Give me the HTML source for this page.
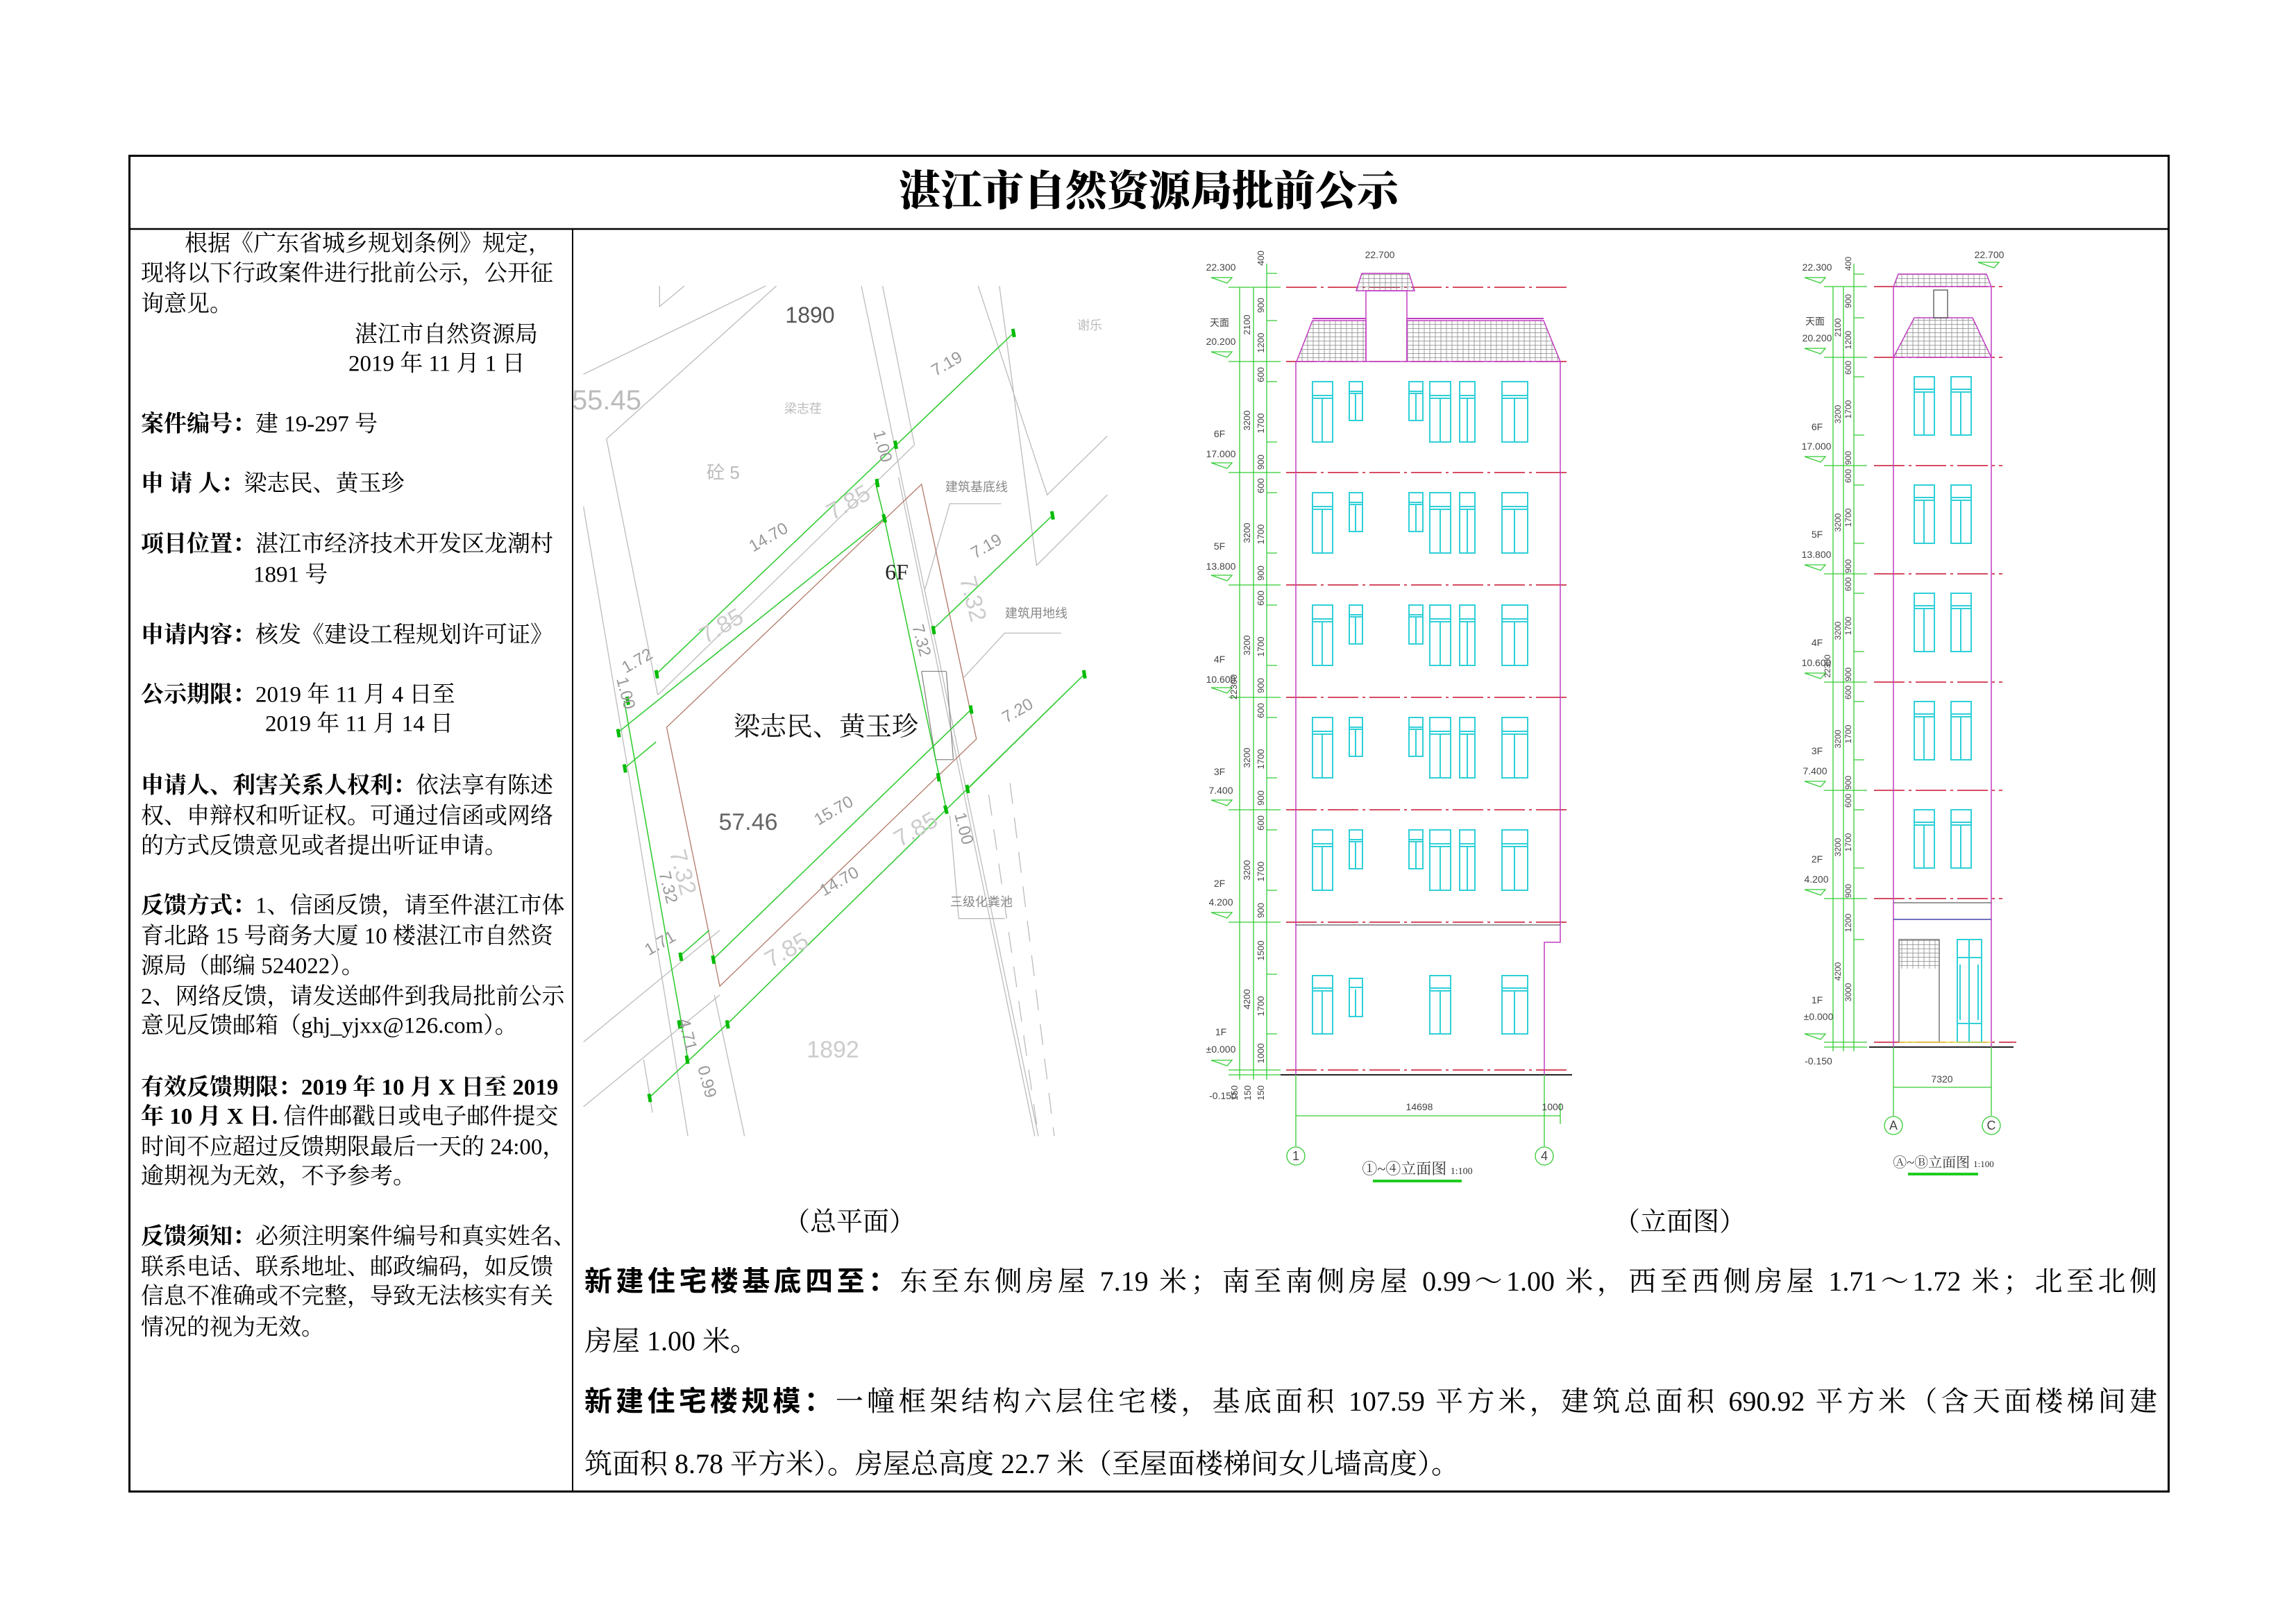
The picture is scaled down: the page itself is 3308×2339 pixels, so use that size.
<!DOCTYPE html>
<html><head><meta charset="utf-8"><style>
html,body{margin:0;padding:0;background:#fff}
body{width:3308px;height:2339px;position:relative;overflow:hidden;font-family:"Liberation Serif","Noto Serif CJK SC",serif;color:#000}
.t{position:absolute;white-space:nowrap;font-size:33px;line-height:33px;transform:translateY(-50%)}
.b{font-weight:bold;font-family:"Liberation Sans","Noto Sans CJK SC",sans-serif}
.p{position:absolute;left:842px;width:2266px;font-size:40px;line-height:40px;white-space:nowrap;transform:translateY(-50%)}
.j{text-align:justify;text-align-last:justify}
</style></head><body>
<svg width="3308" height="2339" viewBox="0 0 3308 2339" style="position:absolute;left:0;top:0" font-family="Liberation Sans, Noto Sans CJK SC, sans-serif">
<defs>
<pattern id="hat" width="8" height="6" patternUnits="userSpaceOnUse"><path d="M0 5.5H8M4 0V6" stroke="#888" stroke-width="0.8"/></pattern>
<g id="mf" fill="none" stroke="#2fd0d8" stroke-width="2">
<rect x="1891" y="29" width="29" height="87"/><path d="M1891 49H1920M1891 53H1920M1905 53V116"/>
<rect x="1944" y="29" width="19" height="56"/><path d="M1944 43H1963M1944 46H1963M1953 46V85"/>
<rect x="2030" y="29" width="20" height="56"/><path d="M2030 43H2050M2030 46H2050M2040 46V85"/>
<rect x="2060" y="29" width="30" height="87"/><path d="M2060 49H2090M2060 53H2090M2075 53V116"/>
<rect x="2103" y="29" width="22" height="87"/><path d="M2103 49H2125M2103 53H2125M2114 53V116"/>
<rect x="2164" y="29" width="37" height="87"/><path d="M2164 49H2201M2164 53H2201M2182 53V116"/>
</g>
<g id="sf" fill="none" stroke="#2fd0d8" stroke-width="2">
<rect x="2758" y="28" width="29" height="84"/><path d="M2758 46H2787M2758 50H2787M2772 50V112"/>
<rect x="2811" y="28" width="29" height="84"/><path d="M2811 46H2840M2811 50H2840M2825 50V112"/>
</g>
</defs>
<!-- frame -->
<rect x="186.5" y="224.5" width="2938" height="1925" fill="none" stroke="#000" stroke-width="3"/>
<line x1="186" y1="330" x2="3126" y2="330" stroke="#000" stroke-width="2.5"/>
<line x1="825" y1="330" x2="825" y2="2151" stroke="#000" stroke-width="2"/>

<!-- SITE PLAN -->
<g transform="translate(833,340) scale(0.51,0.848)" fill="none" stroke-width="1.3">
<g stroke="#bbb" vector-effect="non-scaling-stroke">
<path vector-effect="non-scaling-stroke" d="M15 235L530 85M80 345L560 85M80 345L225 780M15 460L140 905M800 85L1300 1530M860 85L950 355M950 355L225 780M905 410L1290 1530M1130 85L1325 440L1495 340M1190 85L1295 560L1495 440M15 1370L400 1180M15 1480L400 1290M185 1400L210 1490M385 1290L470 1530M230 85L230 120L300 85M140 905L310 1530"/>
<path vector-effect="non-scaling-stroke" stroke-dasharray="30 20" d="M1160 950L1300 1530M1220 930L1345 1530"/>
<path vector-effect="non-scaling-stroke" d="M980 600L1050 455L1195 455M1090 750L1205 675L1365 675M1050 985L1075 1160L1205 1160"/>
<path vector-effect="non-scaling-stroke" stroke="#888" d="M970 740L1040 740M970 740L1010 890L1060 890M1040 740L1060 890"/>
</g>
<polygon vector-effect="non-scaling-stroke" points="250,835 970,422 1125,855 400,1275" stroke="#b07866"/>
<g stroke="#33cc33" stroke-width="1.6">
<path vector-effect="non-scaling-stroke" d="M220 745L1230 165M110 845L865 480M130 905L220 860M285 1225L370 1180M380 1230L1110 805M420 1340L1430 745M200 1465L420 1340M130 790L310 1400M840 420L865 480M865 480L1040 975M1000 670L1340 475M1100 940L1430 745"/>
</g>
<g stroke="#00bb00" stroke-width="5">
<path vector-effect="non-scaling-stroke" d="M1228 158L1232 172M895 348L899 362M220 738L224 752M862 473L868 487M1338 468L1342 482M1002 663L1006 677M1428 738L1432 752M1108 798L1112 812M1098 933L1102 947M1036 968L1042 982M1016 913L1020 927M380 1223L384 1237M420 1333L424 1347M288 1218L292 1232M200 1458L204 1472M306 1393L310 1407M284 1333L288 1347M130 898L134 912M112 838L116 852M138 783L142 797M843 413L847 427"/>
</g>
</g>
<g fill="#999" font-size="26">
<text x="1167" y="465" font-size="32" fill="#555" text-anchor="middle">1890</text>
<text x="874" y="590" font-size="40" fill="#bbb" text-anchor="middle">55.45</text>
<text x="1157" y="595" font-size="18" fill="#bbb" text-anchor="middle">梁志荏</text>
<text x="1042" y="690" font-size="26" fill="#bbb" text-anchor="middle">砼 5</text>
<text x="1570" y="475" font-size="18" fill="#bbb" text-anchor="middle">谢乐</text>
<text x="1292" y="835" font-size="32" fill="#222" text-anchor="middle" font-family="Liberation Serif, serif">6F</text>
<text x="1190" y="1060" font-size="38" fill="#111" text-anchor="middle" font-family="Liberation Serif, Noto Serif CJK SC, serif">梁志民、黄玉珍</text>
<text x="1078" y="1196" font-size="34" fill="#666" text-anchor="middle">57.46</text>
<text x="1200" y="1524" font-size="34" fill="#ccc" text-anchor="middle">1892</text>
<text x="1407" y="708" font-size="18" fill="#888" text-anchor="middle">建筑基底线</text>
<text x="1493" y="890" font-size="18" fill="#888" text-anchor="middle">建筑用地线</text>
<text x="1414" y="1306" font-size="18" fill="#888" text-anchor="middle">三级化粪池</text>
<g font-size="24" fill="#999" text-anchor="middle">
<text transform="translate(1368,531) rotate(-30)">7.19</text>
<text transform="translate(1425,794) rotate(-30)">7.19</text>
<text transform="translate(1470,1031) rotate(-30)">7.20</text>
<text transform="translate(1111,781) rotate(-30)">14.70</text>
<text transform="translate(1205,1175) rotate(-30)">15.70</text>
<text transform="translate(1213,1277) rotate(-30)">14.70</text>
<text transform="translate(922,959) rotate(-30)">1.72</text>
<text transform="translate(955,1366) rotate(-30)">1.71</text>
<text transform="translate(1264,645) rotate(75)">1.00</text>
<text transform="translate(1381,1196) rotate(75)">1.00</text>
<text transform="translate(894,1001) rotate(75)">1.00</text>
<text transform="translate(1320,925) rotate(75)">7.32</text>
<text transform="translate(955,1281) rotate(75)">7.32</text>
<text transform="translate(983,1493) rotate(75)">4.71</text>
<text transform="translate(1011,1561) rotate(75)">0.99</text>
</g>
<g font-size="34" fill="#ccc" text-anchor="middle">
<text transform="translate(1228,734) rotate(-30)">7.85</text>
<text transform="translate(1045,912) rotate(-30)">7.85</text>
<text transform="translate(1325,1205) rotate(-30)">7.85</text>
<text transform="translate(1139,1379) rotate(-30)">7.85</text>
<text transform="translate(1391,866) rotate(75)">7.32</text>
<text transform="translate(973,1260) rotate(75)">7.32</text>
</g>
</g>

<!-- MAIN ELEVATION -->
<g fill="none">
<g stroke="#c8102e" stroke-width="1.5" stroke-dasharray="44 6 4 6">
<path d="M1853 414H2262M1853 521H2262M1853 681H2262M1853 843H2262M1853 1005H2262M1853 1167H2262M1853 1329H2262M1853 1542H2262"/>
</g>
<path d="M1845 1549H2265" stroke="#222" stroke-width="2"/>
<path d="M1867 521V1549M2248 521V1358H2225V1549" stroke="#c03cc0" stroke-width="1.5"/>
<path d="M1867 1333H2248" stroke="#333" stroke-width="1"/>
<polygon points="1868,521 1891,462 1968,462 1968,521" fill="url(#hat)" stroke="#c03cc0" stroke-width="1.5"/>
<polygon points="2027,521 2027,462 2224,462 2248,521" fill="url(#hat)" stroke="#c03cc0" stroke-width="1.5"/>
<path d="M1891 459H1968M2027 459H2224" stroke="#c03cc0" stroke-width="2"/>
<rect x="1968" y="419" width="59" height="102" stroke="#c03cc0" stroke-width="1.5"/>
<polygon points="1954,419 1962,394 2030,394 2038,419" fill="url(#hat)" stroke="#c03cc0" stroke-width="1.5"/>
<use href="#mf" y="521"/><use href="#mf" y="681"/><use href="#mf" y="843"/><use href="#mf" y="1005"/><use href="#mf" y="1167"/>
<g stroke="#2fd0d8" stroke-width="2">
<rect x="1891" y="1406" width="29" height="84"/><path d="M1891 1424H1920M1891 1428H1920M1905 1428V1490"/>
<rect x="1944" y="1410" width="19" height="55"/><path d="M1944 1423H1963M1953 1426V1465"/>
<rect x="2060" y="1406" width="30" height="84"/><path d="M2060 1424H2090M2060 1428H2090M2075 1428V1490"/>
<rect x="2164" y="1406" width="37" height="84"/><path d="M2164 1424H2201M2164 1428H2201M2182 1428V1490"/>
</g>
<g stroke="#33cc33" stroke-width="1.3">
<path d="M1786 414V1556M1806 414V1556M1825 380V1556M1770 414H1845M1770 521H1845M1770 681H1845M1770 843H1845M1770 1005H1845M1770 1167H1845M1770 1329H1845M1770 1542H1845M1770 1549H1845"/>
<path d="M1825 394H1840M1825 462H1840M1825 550H1840M1825 637H1840M1825 710H1840M1825 797H1840M1825 872H1840M1825 959H1840M1825 1034H1840M1825 1121H1840M1825 1196H1840M1825 1283H1840M1825 1404H1840M1825 1490H1840"/>
<path d="M1867 1549V1652M2225 1549V1652M2248 1590V1620M1867 1608H2248"/>
<circle cx="1867" cy="1666" r="13"/><circle cx="2225" cy="1666" r="13"/>
<path d="M1745 400H1775L1768 408ZM1745 507H1775L1768 515ZM1745 667H1775L1768 675ZM1745 829H1775L1768 837ZM1745 991H1775L1768 999ZM1745 1153H1775L1768 1161ZM1745 1315H1775L1768 1323ZM1745 1528H1775L1768 1536Z"/>
</g>
<path d="M1978 1702H2106" stroke="#22cc22" stroke-width="4"/>
</g>
<g font-size="14" fill="#444" text-anchor="middle">
<text x="1759" y="390">22.300</text><text x="1988" y="372">22.700</text>
<text x="1757" y="470">天面</text><text x="1759" y="497">20.200</text>
<text x="1757" y="630">6F</text><text x="1759" y="659">17.000</text>
<text x="1757" y="792">5F</text><text x="1759" y="821">13.800</text>
<text x="1757" y="955">4F</text><text x="1759" y="984">10.600</text>
<text x="1757" y="1117">3F</text><text x="1759" y="1144">7.400</text>
<text x="1757" y="1278">2F</text><text x="1759" y="1305">4.200</text>
<text x="1759" y="1492">1F</text><text x="1759" y="1517">±0.000</text>
<text x="1762" y="1584">-0.150</text>
<text x="2045" y="1600">14698</text><text x="2237" y="1600">1000</text>
<text x="1867" y="1672" font-size="18">1</text><text x="2225" y="1672" font-size="18">4</text>
<text x="2042" y="1692" font-size="22" fill="#333" font-family="Liberation Serif, Noto Serif CJK SC, serif">①~④立面图 <tspan font-size="14">1:100</tspan></text>
<g font-size="13">
<text transform="translate(1801,468) rotate(-90)">2100</text>
<text transform="translate(1801,606) rotate(-90)">3200</text>
<text transform="translate(1801,768) rotate(-90)">3200</text>
<text transform="translate(1801,930) rotate(-90)">3200</text>
<text transform="translate(1801,1092) rotate(-90)">3200</text>
<text transform="translate(1801,1254) rotate(-90)">3200</text>
<text transform="translate(1801,1440) rotate(-90)">4200</text>
<text transform="translate(1782,990) rotate(-90)">22300</text>
<text transform="translate(1821,372) rotate(-90)">400</text>
<text transform="translate(1821,440) rotate(-90)">900</text>
<text transform="translate(1821,494) rotate(-90)">1200</text>
<text transform="translate(1821,1370) rotate(-90)">1500</text>
<text transform="translate(1821,1450) rotate(-90)">1700</text>
<text transform="translate(1821,1518) rotate(-90)">1000</text>
<text transform="translate(1783,1575) rotate(-90)">150</text>
<text transform="translate(1802,1575) rotate(-90)">150</text>
<text transform="translate(1821,1575) rotate(-90)">150</text>
</g>
</g>
<g font-size="13" fill="#444" text-anchor="middle">
<g id="fl"><text transform="translate(1821,540) rotate(-90)">600</text><text transform="translate(1821,610) rotate(-90)">1700</text><text transform="translate(1821,666) rotate(-90)">900</text></g>
<use href="#fl" y="160"/><use href="#fl" y="322"/><use href="#fl" y="484"/><use href="#fl" y="646"/>
</g>

<!-- SIDE ELEVATION -->
<g fill="none">
<g stroke="#c8102e" stroke-width="1.5" stroke-dasharray="44 6 4 6">
<path d="M2700 413H2885M2700 515H2885M2700 671H2885M2700 827H2885M2700 983H2885M2700 1139H2885M2700 1295H2885M2700 1502H2905"/>
</g>
<path d="M2693 1509H2901" stroke="#222" stroke-width="2"/>
<path d="M2728 413V1509M2869 413V1509" stroke="#c03cc0" stroke-width="1.5"/>
<polygon points="2728,515 2758,458 2842,458 2869,515" fill="url(#hat)" stroke="#c03cc0" stroke-width="1.5"/>
<path d="M2728 413H2869" stroke="#333"/>
<polygon points="2728,413 2735,395 2862,395 2869,413" fill="url(#hat)" stroke="#c03cc0" stroke-width="1.5"/>
<rect x="2786" y="418" width="20" height="40" stroke="#444" stroke-width="1.2"/>
<use href="#sf" y="515"/><use href="#sf" y="671"/><use href="#sf" y="827"/><use href="#sf" y="983"/><use href="#sf" y="1139"/>
<path d="M2728 1301H2869" stroke="#333"/><path d="M2728 1325H2869" stroke="#44a" stroke-width="1.5"/>
<rect x="2736" y="1354" width="58" height="148" stroke="#555" stroke-width="1.2"/>
<rect x="2736" y="1354" width="58" height="42" fill="url(#hat)" stroke="none"/>
<rect x="2820" y="1354" width="35" height="148" stroke="#2fd0d8" stroke-width="2"/>
<path d="M2820 1380H2855M2837 1354V1502M2824 1390V1470M2850 1390V1470M2820 1475H2855" stroke="#2fd0d8" stroke-width="2"/>
<path d="M2736 1502H2869" stroke="#e8d040" stroke-width="1.5"/>
<g stroke="#33cc33" stroke-width="1.3">
<path d="M2641 413V1515M2656 413V1515M2671 380V1515M2628 413H2690M2628 515H2690M2628 671H2690M2628 827H2690M2628 983H2690M2628 1139H2690M2628 1295H2690M2628 1502H2690M2628 1509H2690"/>
<path d="M2671 395H2686M2671 458H2686M2671 543H2686M2671 627H2686M2671 699H2686M2671 783H2686M2671 855H2686M2671 939H2686M2671 1011H2686M2671 1095H2686M2671 1167H2686M2671 1251H2686M2671 1354H2686"/>
<path d="M2728 1509V1608M2869 1509V1608M2728 1567H2869"/>
<circle cx="2728" cy="1622" r="13"/><circle cx="2869" cy="1622" r="13"/>
<path d="M2600 400H2630L2623 408ZM2600 502H2630L2623 510ZM2600 658H2630L2623 666ZM2600 814H2630L2623 822ZM2600 970H2630L2623 978ZM2600 1126H2630L2623 1134ZM2600 1282H2630L2623 1290ZM2600 1490H2630L2623 1498Z"/>
<path d="M2850 378H2880L2873 386Z"/>
</g>
<path d="M2749 1692H2850" stroke="#22cc22" stroke-width="4"/>
</g>
<g font-size="14" fill="#444" text-anchor="middle">
<text x="2618" y="390">22.300</text><text x="2866" y="372">22.700</text>
<text x="2615" y="468">天面</text><text x="2618" y="492">20.200</text>
<text x="2618" y="620">6F</text><text x="2617" y="648">17.000</text>
<text x="2618" y="775">5F</text><text x="2617" y="804">13.800</text>
<text x="2618" y="931">4F</text><text x="2617" y="960">10.600</text>
<text x="2618" y="1087">3F</text><text x="2615" y="1116">7.400</text>
<text x="2618" y="1243">2F</text><text x="2617" y="1272">4.200</text>
<text x="2618" y="1446">1F</text><text x="2620" y="1470">±0.000</text>
<text x="2620" y="1534">-0.150</text>
<text x="2798" y="1560">7320</text>
<text x="2728" y="1628" font-size="18">A</text><text x="2869" y="1628" font-size="18">C</text>
<text x="2800" y="1682" font-size="20" fill="#333" font-family="Liberation Serif, Noto Serif CJK SC, serif">Ⓐ~Ⓑ立面图 <tspan font-size="13">1:100</tspan></text>
<g font-size="12">
<text transform="translate(2652,472) rotate(-90)">2100</text>
<text transform="translate(2652,597) rotate(-90)">3200</text>
<text transform="translate(2652,753) rotate(-90)">3200</text>
<text transform="translate(2652,909) rotate(-90)">3200</text>
<text transform="translate(2652,1065) rotate(-90)">3200</text>
<text transform="translate(2652,1221) rotate(-90)">3200</text>
<text transform="translate(2652,1400) rotate(-90)">4200</text>
<text transform="translate(2637,960) rotate(-90)">22300</text>
<text transform="translate(2667,380) rotate(-90)">400</text>
<text transform="translate(2667,434) rotate(-90)">900</text>
<text transform="translate(2667,490) rotate(-90)">1200</text>
<text transform="translate(2667,1330) rotate(-90)">1200</text>
<text transform="translate(2667,1430) rotate(-90)">3000</text>
</g>
</g>
<g font-size="12" fill="#444" text-anchor="middle">
<g id="sl"><text transform="translate(2667,530) rotate(-90)">600</text><text transform="translate(2667,590) rotate(-90)">1700</text><text transform="translate(2667,660) rotate(-90)">900</text></g>
<use href="#sl" y="156"/><use href="#sl" y="312"/><use href="#sl" y="468"/><use href="#sl" y="624"/>
</g>
</svg>

<div class="t" style="left:1655px;top:276px;transform:translate(-50%,-50%);font-size:60px;line-height:60px;font-weight:900;font-family:'Liberation Serif','Noto Serif CJK SC',serif">湛江市自然资源局批前公示</div>

<div class="t" style="left:266px;top:352px">根据《广东省城乡规划条例》规定，</div>
<div class="t" style="left:203px;top:395px">现将以下行政案件进行批前公示，公开征</div>
<div class="t" style="left:203px;top:439px">询意见。</div>
<div class="t" style="left:511px;top:483px">湛江市自然资源局</div>
<div class="t" style="left:502px;top:525px">2019 年 11 月 1 日</div>
<div class="t" style="left:203px;top:612px"><b>案件编号：</b>建 19-297 号</div>
<div class="t" style="left:203px;top:698px"><b>申 请 人：</b>梁志民、黄玉珍</div>
<div class="t" style="left:203px;top:785px"><b>项目位置：</b>湛江市经济技术开发区龙潮村</div>
<div class="t" style="left:365px;top:829px">1891 号</div>
<div class="t" style="left:203px;top:916px"><b>申请内容：</b>核发《建设工程规划许可证》</div>
<div class="t" style="left:203px;top:1002px"><b>公示期限：</b>2019 年 11 月 4 日至</div>
<div class="t" style="left:382px;top:1044px">2019 年 11 月 14 日</div>
<div class="t" style="left:203px;top:1133px"><b>申请人、利害关系人权利：</b>依法享有陈述</div>
<div class="t" style="left:203px;top:1177px">权、申辩权和听证权。可通过信函或网络</div>
<div class="t" style="left:203px;top:1220px">的方式反馈意见或者提出听证申请。</div>
<div class="t" style="left:203px;top:1306px"><b>反馈方式：</b>1、信函反馈，请至件湛江市体</div>
<div class="t" style="left:203px;top:1350px">育北路 15 号商务大厦 10 楼湛江市自然资</div>
<div class="t" style="left:203px;top:1393px">源局（邮编 524022）。</div>
<div class="t" style="left:203px;top:1437px">2、网络反馈，请发送邮件到我局批前公示</div>
<div class="t" style="left:203px;top:1479px">意见反馈邮箱（ghj_yjxx@126.com）。</div>
<div class="t" style="left:203px;top:1568px"><b>有效反馈期限：2019 年 10 月 X 日至 2019</b></div>
<div class="t" style="left:203px;top:1610px"><b>年 10 月 X 日.</b> 信件邮戳日或电子邮件提交</div>
<div class="t" style="left:203px;top:1654px">时间不应超过反馈期限最后一天的 24:00，</div>
<div class="t" style="left:203px;top:1696px">逾期视为无效，不予参考。</div>
<div class="t" style="left:203px;top:1783px"><b>反馈须知：</b>必须注明案件编号和真实姓名、</div>
<div class="t" style="left:203px;top:1827px">联系电话、联系地址、邮政编码，如反馈</div>
<div class="t" style="left:203px;top:1869px">信息不准确或不完整，导致无法核实有关</div>
<div class="t" style="left:203px;top:1914px">情况的视为无效。</div>

<div class="t" style="left:1224px;top:1762px;transform:translate(-50%,-50%);font-size:38px">（总平面）</div>
<div class="t" style="left:2420px;top:1762px;transform:translate(-50%,-50%);font-size:38px">（立面图）</div>

<div class="p j" style="top:1847px"><span class="b">新建住宅楼基底四至：</span>东至东侧房屋 7.19 米；南至南侧房屋 0.99～1.00 米，西至西侧房屋 1.71～1.72 米；北至北侧</div>
<div class="p" style="top:1933px">房屋 1.00 米。</div>
<div class="p j" style="top:2020px"><span class="b">新建住宅楼规模：</span>一幢框架结构六层住宅楼，基底面积 107.59 平方米，建筑总面积 690.92 平方米（含天面楼梯间建</div>
<div class="p" style="top:2110px">筑面积 8.78 平方米）。房屋总高度 22.7 米（至屋面楼梯间女儿墙高度）。</div>
</body></html>
